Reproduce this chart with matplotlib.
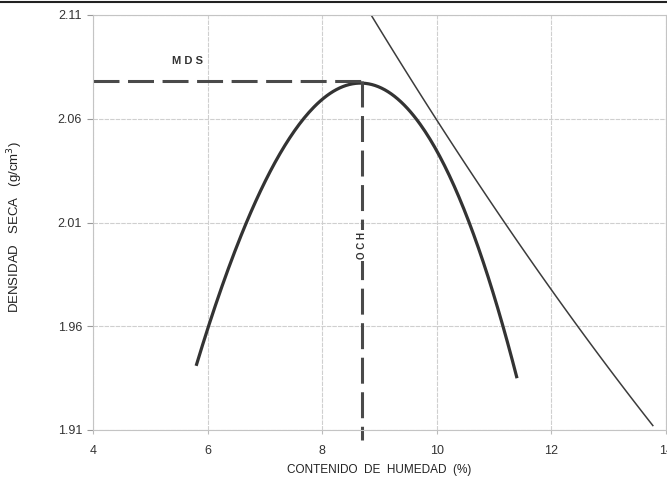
import numpy as np
import matplotlib.pyplot as plt
from matplotlib.lines import Line2D

plt.rcParams['font.family'] = ['Liberation Sans', 'DejaVu Sans']

# compaction curve (moisture %, dry density g/cm3)
humedad = [5.80, 6.00, 6.30, 6.65, 6.95, 7.26, 7.50, 7.70, 8.00, 8.30, 8.66,
           8.90, 9.24, 9.45, 9.65, 9.80, 10.00, 10.25, 10.55, 10.85, 11.16, 11.30, 11.40]
densidad = [1.939, 1.960, 1.984, 2.010, 2.027, 2.041, 2.051, 2.060, 2.071, 2.076, 2.078,
            2.077, 2.069, 2.065, 2.060, 2.054, 2.047, 2.031, 2.010, 1.986, 1.960, 1.946, 1.935]

# saturation (zero air voids) line
sat_x = [8.85, 10.00, 11.16, 12.50, 13.77]
sat_y = [2.110, 2.060, 2.010, 1.959, 1.912]

och = 8.7
mds = 2.078

xticks = [4, 6, 8, 10, 12, 14]
yticks = [1.91, 1.96, 2.01, 2.06, 2.11]

fig = plt.figure(figsize=(6.67, 4.84), dpi=100)
ax = fig.add_axes([93/667, 1 - 430/484, 573/667, 415/484])

ax.set_xlim(4, 14)
ax.set_ylim(1.91, 2.11)
ax.set_xticks(xticks)
ax.set_yticks(yticks)
ax.set_yticklabels(['%.2f' % v for v in yticks])
ax.grid(True, color='#cfcfcf', linewidth=0.8, linestyle=(0, (4, 1)))
ax.set_axisbelow(True)
for s in ax.spines.values():
    s.set_color('#c4c4c4')
    s.set_linewidth(0.8)
ax.tick_params(axis='y', length=4.3, color='#999999', pad=3.5, labelsize=9, labelcolor='#333333')
ax.tick_params(axis='x', length=3, color='#bbbbbb', pad=8, labelsize=9, labelcolor='#333333')

# smooth trendlines through the read points, as in the original spreadsheet chart
xs = np.linspace(min(humedad), max(humedad), 200)
ax.plot(xs, np.polyval(np.polyfit(humedad, densidad, 3), xs),
        color='#333333', linewidth=2.3, solid_capstyle='butt')
xz = np.linspace(min(sat_x), max(sat_x), 100)
ax.plot(xz, np.polyval(np.polyfit(sat_x, sat_y, 2), xz), color='#3c3c3c', linewidth=1.1)

# MDS and OCH guide lines
ax.plot([4, och], [mds, mds], color='#4a4a4a', linewidth=2.2, dashes=(8.5, 2.8))
ax.plot([och, och], [mds, 1.905], color='#4a4a4a', linewidth=2.2, dashes=(8.5, 2.8), clip_on=False)

ax.text(5.65, 2.088, 'M D S', fontsize=8, color='#333333', ha='center', va='center', fontweight='bold')
ax.text(och, 1.999, 'O C H', fontsize=7, color='#333333', ha='center', va='center',
        rotation=90, fontweight='bold',
        bbox=dict(facecolor='white', edgecolor='none', pad=1.5))

ax.set_xlabel('CONTENIDO  DE  HUMEDAD  (%)', fontsize=8.5, color='#222222', labelpad=5)
ax.set_ylabel('DENSIDAD   SECA   (g/cm$^3$)', fontsize=9.5, color='#222222')
ax.yaxis.set_label_coords(-0.118, 0.49)

# border of the table above the chart
fig.add_artist(Line2D([0, 1], [0.995, 0.995], color='#222222', linewidth=1.5))

fig.savefig('out.png', dpi=100)
